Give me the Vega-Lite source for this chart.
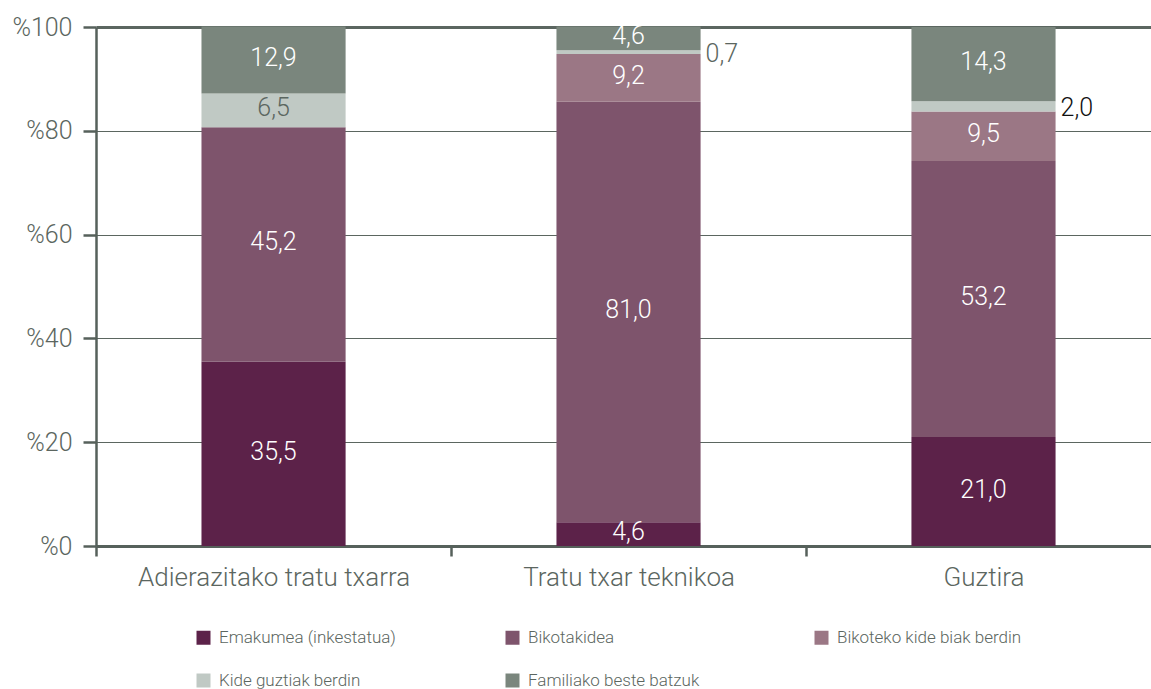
{
  "$schema": "https://vega.github.io/schema/vega-lite/v6.json",
  "width": 1055,
  "height": 519,
  "autosize": {"type": "none"},
  "padding": {"left": 96, "top": 27, "right": 0, "bottom": 143},
  "config": {
    "locale": {"number": {"decimal": ",", "thousands": ".", "grouping": [3], "currency": ["", " €"]}},
    "view": {"stroke": null},
    "font": "Roboto",
    "axis": {
      "domainColor": "#56615b",
      "domainWidth": 2.5,
      "tickColor": "#56615b",
      "tickWidth": 2.5,
      "labelColor": "#5b6660",
      "labelFont": "Roboto",
      "labelFontWeight": 300,
      "title": null
    }
  },
  "data": {
    "values": [
      {"cat": "Adierazitako tratu txarra", "series": "Emakumea (inkestatua)", "idx": 1, "value": 35.5},
      {"cat": "Adierazitako tratu txarra", "series": "Bikotakidea", "idx": 2, "value": 45.2},
      {"cat": "Adierazitako tratu txarra", "series": "Kide guztiak berdin", "idx": 4, "value": 6.5},
      {"cat": "Adierazitako tratu txarra", "series": "Familiako beste batzuk", "idx": 5, "value": 12.9},
      {"cat": "Tratu txar teknikoa", "series": "Emakumea (inkestatua)", "idx": 1, "value": 4.6},
      {"cat": "Tratu txar teknikoa", "series": "Bikotakidea", "idx": 2, "value": 81.0},
      {"cat": "Tratu txar teknikoa", "series": "Bikoteko kide biak berdin", "idx": 3, "value": 9.2},
      {"cat": "Tratu txar teknikoa", "series": "Kide guztiak berdin", "idx": 4, "value": 0.7},
      {"cat": "Tratu txar teknikoa", "series": "Familiako beste batzuk", "idx": 5, "value": 4.6},
      {"cat": "Guztira", "series": "Emakumea (inkestatua)", "idx": 1, "value": 21.0},
      {"cat": "Guztira", "series": "Bikotakidea", "idx": 2, "value": 53.2},
      {"cat": "Guztira", "series": "Bikoteko kide biak berdin", "idx": 3, "value": 9.5},
      {"cat": "Guztira", "series": "Kide guztiak berdin", "idx": 4, "value": 2.0},
      {"cat": "Guztira", "series": "Familiako beste batzuk", "idx": 5, "value": 14.3}
    ]
  },
  "encoding": {
    "x": {
      "field": "cat",
      "type": "nominal",
      "sort": ["Adierazitako tratu txarra", "Tratu txar teknikoa", "Guztira"],
      "scale": {"paddingInner": 0.594, "paddingOuter": 0.283, "align": 0.525},
      "axis": {
        "orient": "bottom",
        "labelAngle": 0,
        "bandPosition": 0,
        "tickOffset": -105.4,
        "labelOffset": 105.4,
        "tickSize": 10,
        "domainWidth": 3,
        "labelPadding": 8,
        "labelFontSize": 26,
        "labelLimit": 500,
        "grid": false
      }
    }
  },
  "layer": [
    {
      "mark": {"type": "bar"},
      "encoding": {
        "y": {
          "field": "value",
          "type": "quantitative",
          "stack": "zero",
          "scale": {"domain": [0, 100], "nice": false},
          "axis": {
            "values": [0, 20, 40, 60, 80, 100],
            "labelExpr": "'%' + datum.value",
            "labelFontSize": 25,
            "tickSize": 13,
            "labelPadding": 11,
            "grid": true,
            "gridColor": "#5b6660",
            "gridWidth": {"condition": {"test": "datum.value === 100", "value": 3}, "value": 1}
          }
        },
        "color": {
          "field": "series",
          "type": "nominal",
          "scale": {
            "domain": ["Emakumea (inkestatua)", "Bikotakidea", "Bikoteko kide biak berdin", "Kide guztiak berdin", "Familiako beste batzuk"],
            "range": ["#5c2249", "#7e546c", "#9b7785", "#c0c9c4", "#7a867d"]
          },
          "legend": {
            "title": null,
            "orient": "none",
            "legendX": 99,
            "legendY": 602,
            "direction": "horizontal",
            "columns": 3,
            "gridAlign": "all",
            "columnPadding": 100,
            "rowPadding": 25,
            "padding": 0,
            "symbolType": "square",
            "symbolSize": 196,
            "symbolStrokeWidth": 0,
            "symbolOpacity": 1,
            "labelFont": "Roboto",
            "labelFontWeight": 300,
            "labelFontSize": 17,
            "labelColor": "#5b6660",
            "labelOffset": 7,
            "labelLimit": 400
          }
        },
        "order": {"field": "idx", "type": "quantitative"}
      }
    },
    {
      "mark": {"type": "text", "font": "Roboto", "fontWeight": 300, "fontSize": 25, "baseline": "middle", "dy": -2},
      "encoding": {
        "y": {"field": "value", "type": "quantitative", "stack": "zero", "bandPosition": 0.5},
        "detail": {"field": "series"},
        "order": {"field": "idx", "type": "quantitative"},
        "text": {"condition": {"test": "datum.value >= 3", "field": "value", "type": "quantitative", "format": ".1f"}, "value": ""},
        "color": {"condition": {"test": "datum.series === 'Kide guztiak berdin'", "value": "#5b6660"}, "value": "#ffffff"}
      }
    },
    {
      "mark": {"type": "text", "font": "Roboto", "fontWeight": 300, "fontSize": 25, "baseline": "middle", "align": "left", "dx": 5, "dy": 2},
      "encoding": {
        "x": {"field": "cat", "type": "nominal", "sort": ["Adierazitako tratu txarra", "Tratu txar teknikoa", "Guztira"], "bandPosition": 1},
        "y": {"field": "value", "type": "quantitative", "stack": "zero", "bandPosition": 0.5},
        "detail": {"field": "series"},
        "order": {"field": "idx", "type": "quantitative"},
        "text": {"condition": {"test": "datum.value < 3", "field": "value", "type": "quantitative", "format": ".1f"}, "value": ""},
        "color": {"condition": {"test": "datum.cat === 'Guztira'", "value": "#111111"}, "value": "#5b6660"}
      }
    }
  ]
}
